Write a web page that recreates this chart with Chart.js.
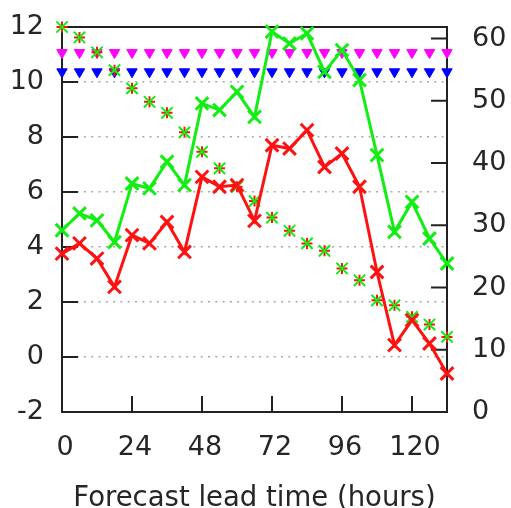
<!DOCTYPE html>
<html>
<head>
<meta charset="utf-8">
<script src="https://cdn.jsdelivr.net/npm/chart.js@4.4.0/dist/chart.umd.min.js"></script>
<style>
  body { margin: 0; background: #fff; }
  canvas { display: block; }
</style>
</head>
<body>
<canvas id="myChart" width="511" height="508"></canvas>
<script>
// lead times (hours)
var hours = [0, 6, 12, 18, 24, 30, 36, 42, 48, 54, 60, 66, 72, 78, 84, 90, 96, 102, 108, 114, 120, 126, 132];

var greenLine = [4.61, 5.22, 4.97, 4.18, 6.31, 6.13, 7.10, 6.25, 9.22, 8.98, 9.64, 8.73, 11.83, 11.40, 11.77, 10.37, 11.16, 10.07, 7.34, 4.55, 5.64, 4.31, 3.40];
var redLine = [3.76, 4.13, 3.58, 2.55, 4.43, 4.13, 4.91, 3.82, 6.55, 6.19, 6.25, 4.95, 7.70, 7.58, 8.25, 6.91, 7.40, 6.19, 3.09, 0.43, 1.34, 0.49, -0.60];
var stars = [12.0, 11.62, 11.08, 10.43, 9.77, 9.28, 8.88, 8.17, 7.46, 6.86, 6.19, 5.67, 5.07, 4.59, 4.13, 3.86, 3.22, 2.79, 2.06, 1.88, 1.46, 1.18, 0.73];
var magentaLevel = [11.07, 11.07, 11.07, 11.07, 11.07, 11.07, 11.07, 11.07, 11.07, 11.07, 11.07, 11.07, 11.07, 11.07, 11.07, 11.07, 11.07, 11.07, 11.07, 11.07, 11.07, 11.07, 11.07];
var blueLevel = [10.37, 10.37, 10.37, 10.37, 10.37, 10.37, 10.37, 10.37, 10.37, 10.37, 10.37, 10.37, 10.37, 10.37, 10.37, 10.37, 10.37, 10.37, 10.37, 10.37, 10.37, 10.37, 10.37];

var xTicks = [0, 24, 48, 72, 96, 120];
var yTicks = [-2, 0, 2, 4, 6, 8, 10, 12];
var y2Ticks = [0, 10, 20, 30, 40, 50, 60];

var textColor = "#262626";
var fontFamily = "'DejaVu Sans', sans-serif";

function points(values) {
    var out = [];
    for (var i = 0; i < hours.length; i++) {
        out.push({x: hours[i], y: values[i]});
    }
    return out;
}

function setTicks(list) {
    return function (scale) {
        scale.ticks = list.map(function (v) { return {value: v}; });
    };
}

// fixed box sizes so the plot area sits where the original has it
function fixSize(w, h) {
    return function (scale) {
        if (w) scale.width = w;
        if (h) scale.height = h;
        scale.paddingTop = 0;
        scale.paddingBottom = 0;
        scale.paddingLeft = 0;
        scale.paddingRight = 0;
    };
}

// gnuplot style: box round the plot and ticks pointing inwards
var frame = {
    id: "frame",
    beforeDatasetsDraw: function (chart) {
        var ctx = chart.ctx;
        var a = chart.chartArea;
        var sx = chart.scales.x, sy = chart.scales.y, sy2 = chart.scales.y2;
        var len = 16;
        ctx.save();
        ctx.strokeStyle = "#222222";
        ctx.lineWidth = 2;
        ctx.beginPath();
        xTicks.forEach(function (v) {
            var px = sx.getPixelForValue(v);
            ctx.moveTo(px, a.bottom);
            ctx.lineTo(px, a.bottom - len);
        });
        yTicks.forEach(function (v) {
            var py = sy.getPixelForValue(v);
            ctx.moveTo(a.left, py);
            ctx.lineTo(a.left + len, py);
        });
        y2Ticks.forEach(function (v) {
            var py = sy2.getPixelForValue(v);
            ctx.moveTo(a.right, py);
            ctx.lineTo(a.right - len, py);
        });
        ctx.stroke();
        ctx.strokeRect(a.left, a.top, a.right - a.left, a.bottom - a.top);
        ctx.restore();
    }
};

var data = {
    datasets: [
        {
            label: "green",
            data: points(greenLine),
            showLine: true,
            borderColor: "#11ee11",
            backgroundColor: "#11ee11",
            borderWidth: 3,
            pointStyle: "crossRot",
            pointRadius: 9,
            pointBorderWidth: 3,
            clip: false
        },
        {
            label: "red",
            data: points(redLine),
            showLine: true,
            borderColor: "#ff1111",
            backgroundColor: "#ff1111",
            borderWidth: 3,
            pointStyle: "crossRot",
            pointRadius: 9,
            pointBorderWidth: 3,
            clip: false
        },
        {
            label: "stars x",
            data: points(stars),
            showLine: false,
            borderColor: "#11ee11",
            pointStyle: "crossRot",
            pointRadius: 8,
            pointBorderWidth: 2,
            clip: false
        },
        {
            label: "stars +",
            data: points(stars),
            showLine: false,
            borderColor: "#ff1111",
            pointStyle: "cross",
            pointRadius: 5.5,
            pointBorderWidth: 2,
            clip: false
        },
        {
            label: "magenta",
            data: points(magentaLevel),
            showLine: false,
            borderColor: "#ff00ff",
            backgroundColor: "#ff00ff",
            pointStyle: "triangle",
            pointRotation: 180,
            pointRadius: 6,
            pointBorderWidth: 1,
            clip: false
        },
        {
            label: "blue",
            data: points(blueLevel),
            showLine: false,
            borderColor: "#0000ff",
            backgroundColor: "#0000ff",
            pointStyle: "triangle",
            pointRotation: 180,
            pointRadius: 6,
            pointBorderWidth: 1,
            clip: false
        }
    ]
};

var options = {
    responsive: false,
    animation: false,
    layout: {padding: {top: 27, left: 0, right: 0, bottom: 0}},
    plugins: {
        legend: {display: false},
        tooltip: {enabled: false}
    },
    scales: {
        x: {
            type: "linear",
            min: 0,
            max: 132,
            afterBuildTicks: setTicks(xTicks),
            afterFit: fixSize(0, 96),
            grid: {display: false, drawTicks: false},
            border: {display: false},
            ticks: {
                color: textColor,
                font: {family: fontFamily, size: 27},
                padding: 20,
                labelOffset: 3,
                maxRotation: 0
            },
            title: {
                display: true,
                text: "Forecast lead time (hours)",
                color: textColor,
                font: {family: fontFamily, size: 27.5, lineHeight: 0.7},
                padding: {top: 0, bottom: 0}
            }
        },
        y: {
            type: "linear",
            position: "left",
            min: -2,
            max: 12,
            afterBuildTicks: setTicks(yTicks),
            afterFit: fixSize(62, 0),
            border: {display: false, dash: [2, 5.3]},
            grid: {
                drawTicks: false,
                color: "#a8a8a8",
                lineWidth: 1.5
            },
            ticks: {
                color: textColor,
                font: {family: fontFamily, size: 27},
                padding: 18
            }
        },
        y2: {
            type: "linear",
            position: "right",
            min: 0,
            max: 61.85,
            afterBuildTicks: setTicks(y2Ticks),
            afterFit: fixSize(64, 0),
            border: {display: false},
            grid: {display: false, drawTicks: false},
            ticks: {
                color: textColor,
                font: {family: fontFamily, size: 27},
                padding: 25
            }
        }
    }
};

var ctx = document.getElementById("myChart").getContext("2d");
var myChart = new Chart(ctx, {type: "scatter", data: data, options: options, plugins: [frame]});
</script>
</body>
</html>
